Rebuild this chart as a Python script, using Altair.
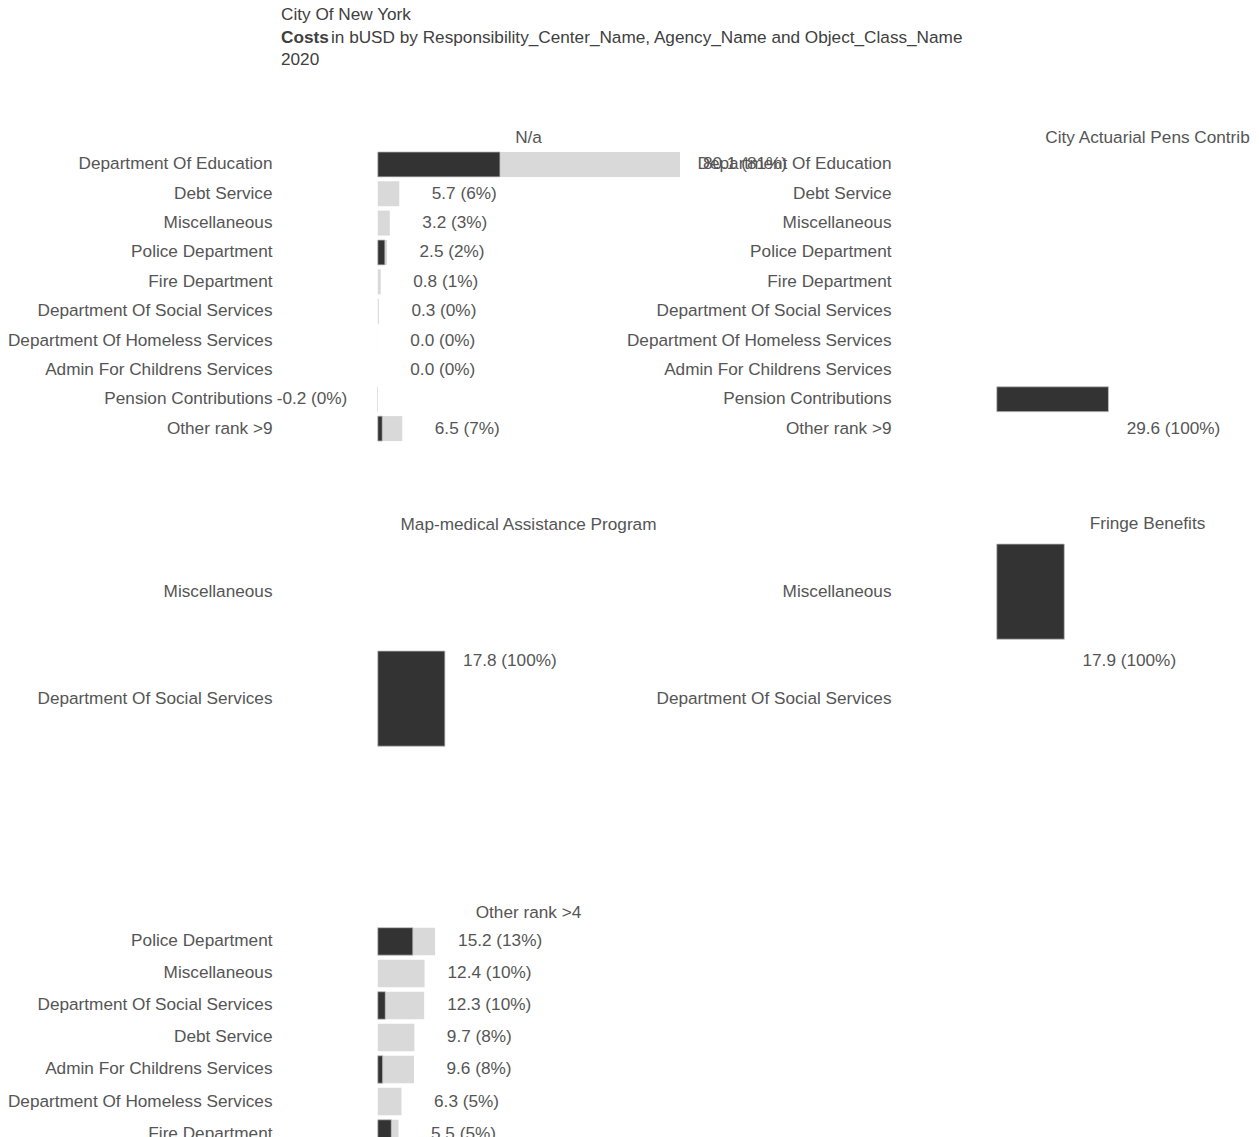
import altair as alt
import pandas as pd

FONT = "Liberation Sans"
GREY = "#d9d9d9"
DARK = "#333333"
TEXT = "#555555"
FS = 17.2

# Agency order on the y axis of each facet row
row1_agencies = [
    "Department Of Education", "Debt Service", "Miscellaneous", "Police Department",
    "Fire Department", "Department Of Social Services", "Department Of Homeless Services",
    "Admin For Childrens Services", "Pension Contributions", "Other rank >9",
]
row2_agencies = ["Miscellaneous", "Department Of Social Services"]
row3_agencies = [
    "Police Department", "Miscellaneous", "Department Of Social Services", "Debt Service",
    "Admin For Childrens Services", "Department Of Homeless Services", "Fire Department",
    "Department Of Education", "Pension Contributions", "Other rank >9",
]

# Costs (bUSD) per agency, and the part from the leading responsibility center
na_cost = [80.1, 5.7, 3.2, 2.46, 0.8, 0.3, 0.02, 0.01, -0.2, 6.5]
na_center = [32.4, 0.0, 0.0, 1.9, 0.0, 0.0, 0.0, 0.0, 0.0, 1.2]

pens_agencies = ["Pension Contributions"]
pens_cost = [29.6]
pens_center = [29.6]

medical_agencies = ["Department Of Social Services"]
medical_cost = [17.8]
medical_center = [17.8]

fringe_agencies = ["Miscellaneous"]
fringe_cost = [17.9]
fringe_center = [17.9]

other_cost = [15.2, 12.4, 12.3, 9.7, 9.6, 6.3, 5.5, 4.9, 0.4, 43.5]
other_center = [9.3, 0.0, 2.0, 0.0, 1.3, 0.0, 3.6, 0.0, 0.0, 0.0]


def frame(agencies, cost, center):
    total = sum(cost)
    labels = [f"{c:.1f} ({int(round(c / total * 100))}%)" for c in cost]
    return pd.DataFrame({"agency": agencies, "cost": cost, "center": center, "label": labels})


# Panel widths: the right-hand column is narrower, so its domain is cut to keep
# the same pixels per bUSD as the left-hand column.
W_LEFT = 303
W_RIGHT = 255
all_costs = na_cost + pens_cost + medical_cost + fringe_cost + other_cost
lo, hi = min(all_costs), max(all_costs)
scale_left = alt.Scale(domain=[lo, hi], nice=False, zero=False)
scale_right = alt.Scale(domain=[lo, lo + (hi - lo) * W_RIGHT / W_LEFT], nice=False, zero=False)


def panel(df, title, agencies, height, pad_inner, pad_outer, band_align=0.5,
          label_dy=0, right=False, title_offset=3):
    xscale = scale_right if right else scale_left
    y = alt.Y(
        "agency:N",
        sort=agencies,
        title=None,
        scale=alt.Scale(domain=agencies, paddingInner=pad_inner,
                        paddingOuter=pad_outer, align=band_align),
        axis=alt.Axis(
            labelFont=FONT, labelFontSize=FS, labelColor=TEXT, labelPadding=105,
            labelLimit=400, ticks=False, domain=False, grid=False,
        ),
    )
    x = alt.X("cost:Q", scale=xscale, axis=None)
    base = alt.Chart(df)
    total = base.mark_bar(color=GREY).encode(x=x, y=y)
    part = (
        base.transform_filter("datum.center > 0")
        .mark_bar(color=DARK, stroke="#c4c4c4", strokeWidth=0.8)
        .encode(x=alt.X("center:Q", scale=xscale, axis=None), y=y)
    )
    text_style = dict(align="center", baseline="middle", font=FONT, fontSize=FS,
                      color=TEXT, dy=label_dy)
    pos = (
        base.transform_filter("datum.cost >= 0")
        .mark_text(dx=65, **text_style)
        .encode(x=x, y=y, text="label:N")
    )
    neg = (
        base.transform_filter("datum.cost < 0")
        .mark_text(dx=-65, **text_style)
        .encode(x=x, y=y, text="label:N")
    )
    width = W_RIGHT if right else W_LEFT
    return alt.layer(total, part, pos, neg).properties(
        width=width,
        height=height,
        title=alt.TitleParams(
            text=title, font=FONT, fontSize=FS, color=TEXT, fontWeight="normal",
            anchor="middle", offset=title_offset,
            dx=(W_LEFT - W_RIGHT) / 2 if right else 0,
        ),
    )


p_na = panel(frame(row1_agencies, na_cost, na_center), "N/a", row1_agencies, 295, 0.15, 0.1)
p_pens = panel(frame(pens_agencies, pens_cost, pens_center), "City Actuarial Pens Contrib",
               row1_agencies, 295, 0.15, 0.1, label_dy=30, right=True)
p_med = panel(frame(medical_agencies, medical_cost, medical_center), "Map-medical Assistance Program",
              row2_agencies, 280, 0.11, 0.3634, band_align=0, label_dy=-37.5, title_offset=11)
p_fringe = panel(frame(fringe_agencies, fringe_cost, fringe_center), "Fringe Benefits",
                 row2_agencies, 280, 0.11, 0.3634, band_align=0, label_dy=69.5,
                 right=True, title_offset=11)
p_other = panel(frame(row3_agencies, other_cost, other_center), "Other rank >4",
                row3_agencies, 323, 0.14, 0.115)


# Header lines
def header_text(txt, x, y, weight="normal"):
    return alt.Chart(pd.DataFrame({"t": [txt]})).mark_text(
        align="left", baseline="middle", font=FONT, fontSize=FS, color="#404040",
        fontWeight=weight,
    ).encode(x=alt.value(x), y=alt.value(y), text="t:N")


header = alt.layer(
    header_text("City Of New York", -96, 15),
    header_text("Costs", -96, 38, "bold"),
    header_text("in bUSD by Responsibility_Center_Name, Agency_Name and Object_Class_Name", -46, 38),
    header_text("2020", -96, 60),
).properties(width=W_LEFT, height=49)

blank = alt.Chart(pd.DataFrame({"t": [""]})).mark_text().encode(text="t:N").properties(
    width=W_RIGHT, height=49
)

chart = (
    alt.concat(
        header, blank, p_na, p_pens, p_med, p_fringe, p_other,
        columns=2, bounds="flush", align="each",
        spacing=alt.RowColnumber(row=100, column=316),
    )
    .properties(padding={"left": 7, "top": 0, "right": 0, "bottom": 0})
    .configure_view(stroke=None)
)

chart.save("out.html", embed_options={"renderer": "svg", "actions": False})
